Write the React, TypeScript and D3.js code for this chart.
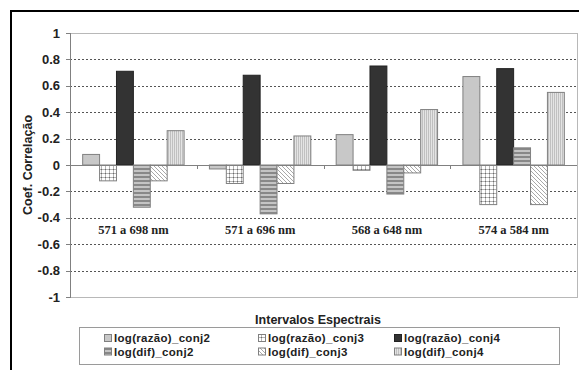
import * as d3 from 'd3';

const categories = ['571 a 698 nm', '571 a 696 nm', '568 a 648 nm', '574 a 584 nm'];
const seriesNames = [
  'log(razão)_conj2',
  'log(razão)_conj3',
  'log(razão)_conj4',
  'log(dif)_conj2',
  'log(dif)_conj3',
  'log(dif)_conj4',
];
const razaoConj2 = [0.08, -0.03, 0.23, 0.67];
const razaoConj3 = [-0.12, -0.14, -0.04, -0.3];
const razaoConj4 = [0.71, 0.68, 0.75, 0.73];
const difConj2 = [-0.32, -0.37, -0.22, 0.13];
const difConj3 = [-0.12, -0.14, -0.06, -0.3];
const difConj4 = [0.26, 0.22, 0.42, 0.55];
const yTicks = [-1, -0.8, -0.6, -0.4, -0.2, 0, 0.2, 0.4, 0.6, 0.8, 1];

const seriesValues = [razaoConj2, razaoConj3, razaoConj4, difConj2, difConj3, difConj4];
const fills = ['#c8c8c8', 'url(#pGrid)', '#333333', 'url(#pHoriz)', 'url(#pDiag)', 'url(#pVert)'];
const strokes = ['#808080', '#808080', '#222222', '#808080', '#808080', '#808080'];

const W = 579;
const H = 370;
const plot = { left: 70, right: 577, top: 33, bottom: 297 };

const sans = 'Arial, "Liberation Sans", sans-serif';
const serif = '"Times New Roman", "Liberation Serif", serif';

export default function App() {
  const x = d3.scaleBand<string>().domain(categories).range([plot.left, plot.right]).padding(0);
  const xs = d3
    .scaleBand<number>()
    .domain(d3.range(seriesNames.length))
    .range([0, x.bandwidth()])
    .paddingInner(0)
    .paddingOuter(0.75);
  const y = d3.scaleLinear().domain([-1, 1]).range([plot.bottom, plot.top]);
  // plain hyphen for negatives, like the original
  const fmt = (d: number) => String(+d.toFixed(1));

  const legendCols = [104, 258, 394];
  const legendRows = [338, 351.5];

  return (
    <svg width={W} height={H} style={{ position: 'absolute', left: 0, top: 0, background: '#fff' }}>
      <defs>
        <pattern id="pGrid" width="4" height="4" patternUnits="userSpaceOnUse">
          <rect width="4" height="4" fill="#ffffff" />
          <rect x="1" width="1" height="4" fill="#b4b4b4" />
          <rect y="1" width="4" height="1" fill="#b4b4b4" />
          <rect x="1" y="1" width="1" height="1" fill="#6a6a6a" />
        </pattern>
        <pattern id="pHoriz" width="4" height="4" patternUnits="userSpaceOnUse">
          <rect width="4" height="4" fill="#c4c4c4" />
          <rect width="4" height="2" fill="#888888" />
        </pattern>
        <pattern id="pDiag" width="4" height="4" patternUnits="userSpaceOnUse">
          <rect width="4" height="4" fill="#ffffff" />
          <path d="M-1,-1 L5,5 M-1,3 L1,5 M3,-1 L5,1" stroke="#a8a8a8" strokeWidth="1" />
        </pattern>
        <pattern id="pVert" width="2" height="2" patternUnits="userSpaceOnUse">
          <rect width="2" height="2" fill="#e4e4e4" />
          <rect width="1" height="2" fill="#c0c0c0" />
        </pattern>
      </defs>

      {/* outer frame */}
      <path d={`M11,${H} L11,11 L${W},11`} fill="none" stroke="#000" strokeWidth={2} />

      {/* gridlines */}
      {yTicks
        .filter((t) => t !== 0 && t !== 1 && t !== -1)
        .map((t) => (
          <line
            key={'g' + t}
            x1={plot.left}
            x2={plot.right}
            y1={Math.round(y(t)) + 0.5}
            y2={Math.round(y(t)) + 0.5}
            stroke="#555"
            strokeDasharray="2,2"
          />
        ))}

      {/* plot border */}
      <rect
        x={plot.left + 0.5}
        y={plot.top + 0.5}
        width={plot.right - plot.left}
        height={plot.bottom - plot.top}
        fill="none"
        stroke="#b8b8b8"
      />
      <line x1={plot.left + 0.5} x2={plot.left + 0.5} y1={plot.top} y2={plot.bottom + 1} stroke="#808080" />

      {/* y ticks */}
      {yTicks.map((t) => (
        <g key={'t' + t}>
          <line x1={plot.left - 4} x2={plot.left} y1={Math.round(y(t)) + 0.5} y2={Math.round(y(t)) + 0.5} stroke="#808080" />
          <text
            x={60}
            y={y(t) + 4.5}
            textAnchor="end"
            fontFamily={sans}
            fontWeight="bold"
            fontSize={13}
            fill="#222"
          >
            {fmt(t)}
          </text>
        </g>
      ))}

      {/* bars */}
      {categories.map((c, ci) =>
        seriesValues.map((vals, si) => {
          const v = vals[ci];
          const x0 = (x(c) as number) + (xs(si) as number);
          const y0 = y(Math.max(0, v));
          const y1 = y(Math.min(0, v));
          return (
            <rect
              key={c + si}
              x={x0}
              y={y0}
              width={xs.bandwidth()}
              height={y1 - y0}
              fill={fills[si]}
              stroke={strokes[si]}
              strokeWidth={1}
            />
          );
        })
      )}

      {/* zero line and category ticks */}
      <line x1={plot.left} x2={plot.right} y1={Math.round(y(0)) + 0.5} y2={Math.round(y(0)) + 0.5} stroke="#808080" />
      {categories.slice(1).map((c) => (
        <line
          key={'ct' + c}
          x1={Math.round(x(c) as number) + 0.5}
          x2={Math.round(x(c) as number) + 0.5}
          y1={y(0)}
          y2={y(0) + 4}
          stroke="#808080"
        />
      ))}

      {/* category labels */}
      {categories.map((c) => (
        <text
          key={'cl' + c}
          x={(x(c) as number) + x.bandwidth() / 2}
          y={234}
          textAnchor="middle"
          fontFamily={serif}
          fontWeight="bold"
          fontSize={12.5}
          fill="#222"
        >
          {c}
        </text>
      ))}

      {/* axis titles */}
      <text
        transform={`translate(32,${y(0)}) rotate(-90)`}
        textAnchor="middle"
        fontFamily={sans}
        fontWeight="bold"
        fontSize={12.5}
        fill="#222"
      >
        Coef. Correlação
      </text>
      <text x={318} y={324} textAnchor="middle" fontFamily={sans} fontWeight="bold" fontSize={12.5} fill="#222">
        Intervalos Espectrais
      </text>

      {/* legend */}
      <rect x={79.5} y={327.5} width={480} height={37} fill="#fff" stroke="#9a9a9a" />
      {seriesNames.map((n, i) => {
        const cx = legendCols[i % 3];
        const cy = legendRows[Math.floor(i / 3)];
        return (
          <g key={'l' + n}>
            <rect x={cx + 0.5} y={cy - 3.5} width={7} height={7} fill={fills[i]} stroke={strokes[i]} />
            <text
              x={cx + 10}
              y={cy + 4}
              fontFamily={sans}
              fontWeight="bold"
              fontSize={11.5}
              letterSpacing={0.3}
              fill="#222"
            >
              {n}
            </text>
          </g>
        );
      })}
    </svg>
  );
}
